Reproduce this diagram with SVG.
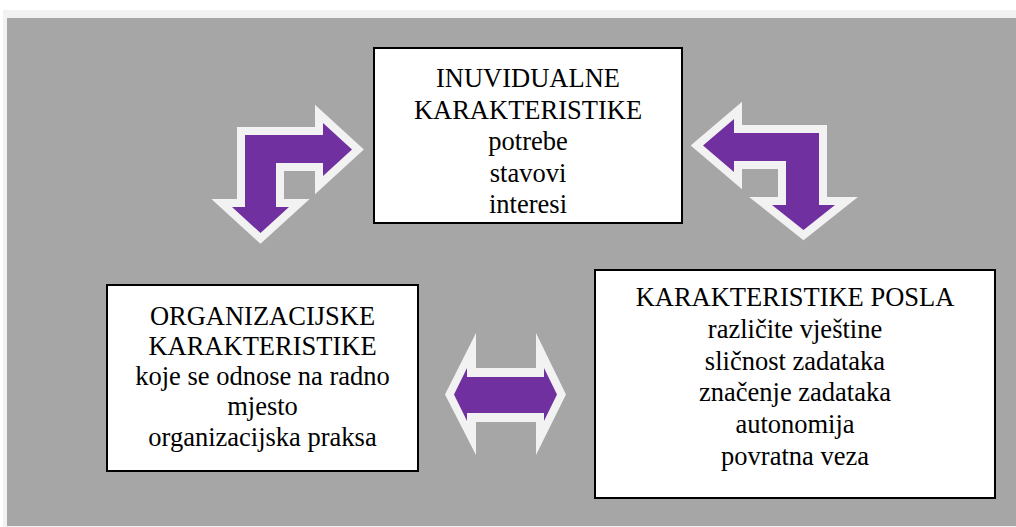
<svg xmlns="http://www.w3.org/2000/svg" width="1016" height="527" viewBox="0 0 1016 527">
  <style>
    .box { fill: #ffffff; stroke: #000000; stroke-width: 2; }
    .t { font-family: "Liberation Serif", "Times New Roman", serif; font-size: 26.5px; fill: #000000; text-anchor: middle; }
    .bent { fill: #7030a0; stroke: #f2f2f2; stroke-width: 16; stroke-linejoin: miter; stroke-miterlimit: 10; paint-order: stroke; }
    .outline { fill: #f2f2f2; }
    .purple { fill: #7030a0; }
  </style>
  <rect x="0" y="0" width="1016" height="527" fill="#ffffff"/>
  <rect x="3" y="10" width="1013" height="517" fill="#f2f2f2"/>
  <rect x="7" y="18" width="1009" height="508" fill="#a6a6a6"/>

  <g id="connectors">
    <polygon class="bent" points="245,207 232,207 260.5,233 289,207 276,207 276,163 323,163 323,176 352,149.5 323,123 323,135 245,135"/>
    <polygon class="bent" points="819,133 819,205 835,205 803.5,230 772,205 786,205 786,161 734,161 734,172 703,145.5 734,119 734,133"/>
    <polygon class="outline" points="445,394.5 476,333 476,368 536,368 536,333 566,394.5 536,455 536,422 476,422 476,455"/>
    <polygon class="purple" points="454,394.5 467,368 467,377 544,377 544,368 557,394.5 544,421 544,413 467,413 467,421"/>
  </g>

  <g id="node-individualne">
    <rect class="box" x="374" y="48" width="308" height="175"/>
    <text class="t" x="528" y="87">INUVIDUALNE</text>
    <text class="t" x="528" y="118.5">KARAKTERISTIKE</text>
    <text class="t" x="528" y="150">potrebe</text>
    <text class="t" x="528" y="181.5">stavovi</text>
    <text class="t" x="528" y="212.5">interesi</text>
  </g>

  <g id="node-organizacijske">
    <rect class="box" x="107" y="285" width="311" height="186"/>
    <text class="t" x="262.5" y="324.5">ORGANIZACIJSKE</text>
    <text class="t" x="262.5" y="354.5">KARAKTERISTIKE</text>
    <text class="t" x="262.5" y="384.5">koje se odnose na radno</text>
    <text class="t" x="262.5" y="415">mjesto</text>
    <text class="t" x="262.5" y="446">organizacijska praksa</text>
  </g>

  <g id="node-posla">
    <rect class="box" x="595" y="270" width="400" height="228"/>
    <text class="t" x="795" y="306">KARAKTERISTIKE POSLA</text>
    <text class="t" x="795" y="338">različite vještine</text>
    <text class="t" x="795" y="369.5">sličnost zadataka</text>
    <text class="t" x="795" y="401">značenje zadataka</text>
    <text class="t" x="795" y="433">autonomija</text>
    <text class="t" x="795" y="465">povratna veza</text>
  </g>
</svg>
